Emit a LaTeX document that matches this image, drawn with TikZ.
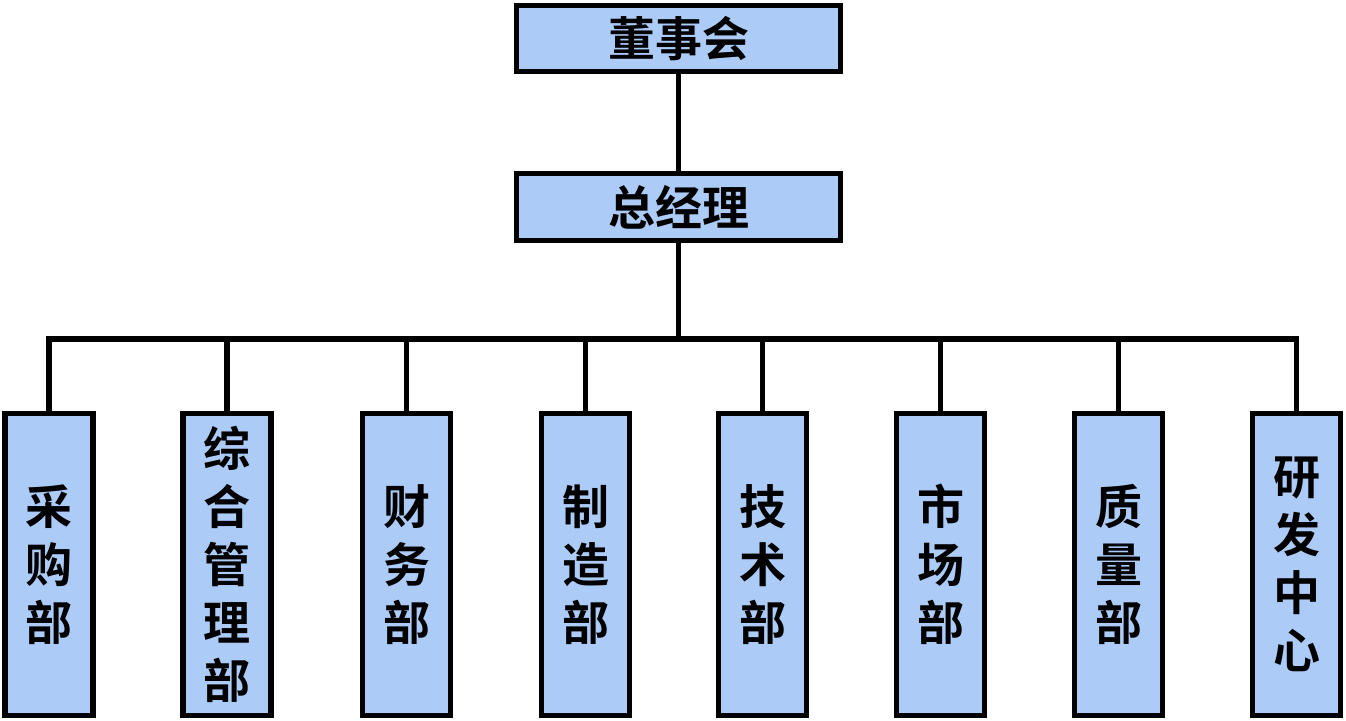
\documentclass[tikz,border=0pt]{standalone}
\usepackage{fontspec}
\newfontfamily\cjk{Noto Sans CJK SC Bold}
\definecolor{boxfill}{HTML}{ADCBF7}
\begin{document}
\begin{tikzpicture}[x=1pt,y=-1pt,
  box/.style={draw=black, line width=5.5pt, fill=boxfill, inner sep=0pt, outer sep=0pt},
  conn/.style={line width=5.5pt}]
\useasboundingbox (0,0) rectangle (1346,720);
\node[box, minimum width=324pt, minimum height=66pt, font=\cjk\fontsize{47}{50}\selectfont] (top) at (678.5,38.5) {董事会};
\node[box, minimum width=324pt, minimum height=67pt, font=\cjk\fontsize{47}{50}\selectfont] (gm) at (678.5,207) {总经理};
\foreach \i/\x/\t in {1/49/{采\\购\\部},2/227/{综\\合\\管\\理\\部},3/406.5/{财\\务\\部},4/585.5/{制\\造\\部},5/762.5/{技\\术\\部},6/940.5/{市\\场\\部},7/1118.5/{质\\量\\部},8/1296.5/{研\\发\\中\\心}}{
  \node[box, minimum width=88pt, minimum height=302pt, align=center, font=\cjk\fontsize{47}{58}\selectfont] (d\i) at (\x,564.5) {\t};
}
\coordinate (bus) at (678.5,339);
\draw[conn] (top.south) -- (gm.north);
\draw[conn] (gm.south) -- (bus);
\draw[conn] (d1.north) |- (bus) -| (d8.north);
\foreach \i in {2,...,7}{
  \draw[conn] (d\i.north) -- (d\i.north |- bus);
}
\end{tikzpicture}
\end{document}
